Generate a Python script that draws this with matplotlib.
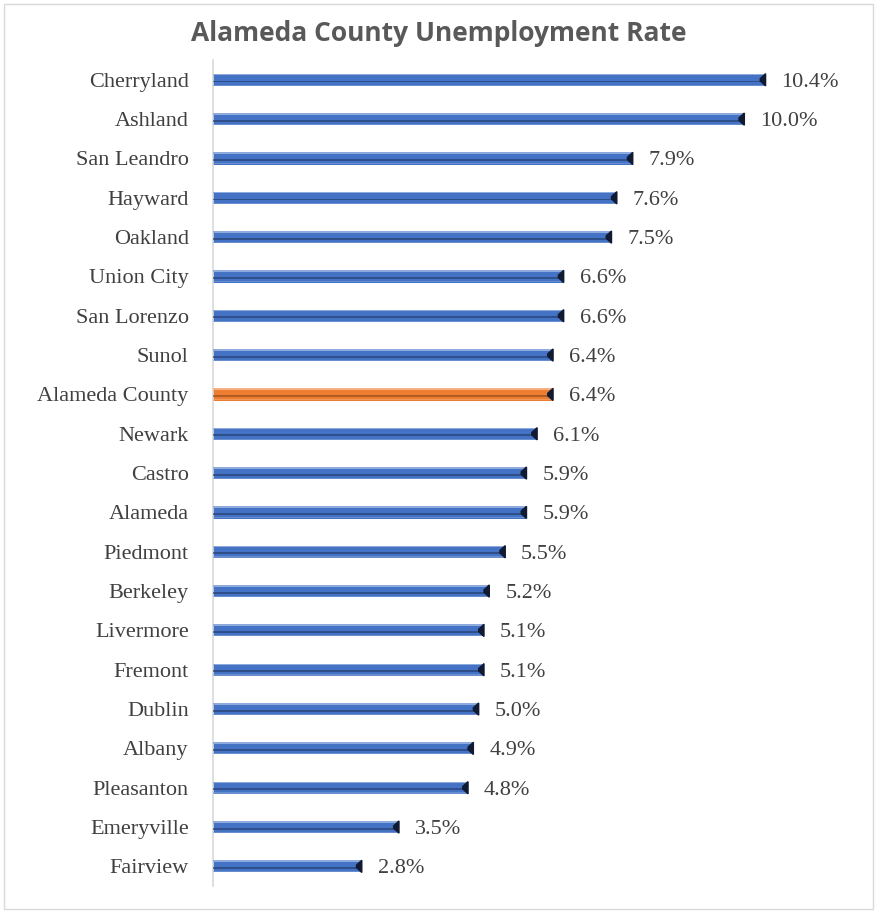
import numpy as np
import matplotlib.pyplot as plt
from matplotlib.patches import Rectangle

places = ["Cherryland", "Ashland", "San Leandro", "Hayward", "Oakland", "Union City",
          "San Lorenzo", "Sunol", "Alameda County", "Newark", "Castro", "Alameda",
          "Piedmont", "Berkeley", "Livermore", "Fremont", "Dublin", "Albany",
          "Pleasanton", "Emeryville", "Fairview"]
rates = [10.4, 10.0, 7.9, 7.6, 7.5, 6.6, 6.6, 6.4, 6.4, 6.1, 5.9, 5.9,
         5.5, 5.2, 5.1, 5.1, 5.0, 4.9, 4.8, 3.5, 2.8]
highlight = "Alameda County"

fig = plt.figure(figsize=(8.77, 9.11), dpi=100)
ax = fig.add_axes([0.2429, 0.0274, 0.727, 0.9066])

y = np.arange(len(places))[::-1]
h = 0.31
for yi, name, v in zip(y, places, rates):
    if name == highlight:
        base, dark, light = "#ED7D31", "#8A4418", "#F6B183"
    else:
        base, dark, light = "#4472C4", "#203864", "#8FAADC"
    ax.barh(yi, v, height=h, color=base, edgecolor="none", zorder=2)
    # bevel look: thin light top edge, dark band below the middle
    ax.barh(yi + h * 0.43, v, height=h * 0.12, color=light, edgecolor="none", zorder=3)
    ax.barh(yi - h * 0.14, v, height=h * 0.16, color=dark, edgecolor="none", alpha=0.6, zorder=3)
    ax.barh(yi - h * 0.44, v, height=h * 0.1, color=light, edgecolor="none", alpha=0.5, zorder=3)
    ax.add_patch(plt.Polygon([[v, yi - h / 2], [v, yi + h / 2], [v - 0.1, yi + h * 0.1], [v - 0.1, yi - h * 0.1]],
                             closed=True, color="#111a33", zorder=4))
    ax.text(v + 0.3, yi, f"{v:.1f}%", va="center_baseline", ha="left", fontsize=16,
            family="Liberation Serif", color="#404040")

ax.set_xlim(0, 12)
ax.set_ylim(-0.5, len(places) - 0.5)
ax.set_yticks(y)
ax.set_yticklabels(places, family="Liberation Serif", fontsize=16, color="#404040",
                   va="center_baseline")
ax.tick_params(axis="y", length=0, pad=17.5)
ax.set_xticks([])
for s in ["top", "right", "bottom"]:
    ax.spines[s].set_visible(False)
ax.spines["left"].set_color("#D9D9D9")
ax.spines["left"].set_linewidth(1.2)

fig.text(0.5, 0.963, "Alameda County Unemployment Rate", ha="center", va="center",
         fontsize=19, fontweight="bold", family="Open Sans", color="#595959")

fig.add_artist(Rectangle((0.004, 0.002), 0.992, 0.994, transform=fig.transFigure,
                         fill=False, edgecolor="#D9D9D9", linewidth=1))

fig.savefig("out.png", dpi=100)
